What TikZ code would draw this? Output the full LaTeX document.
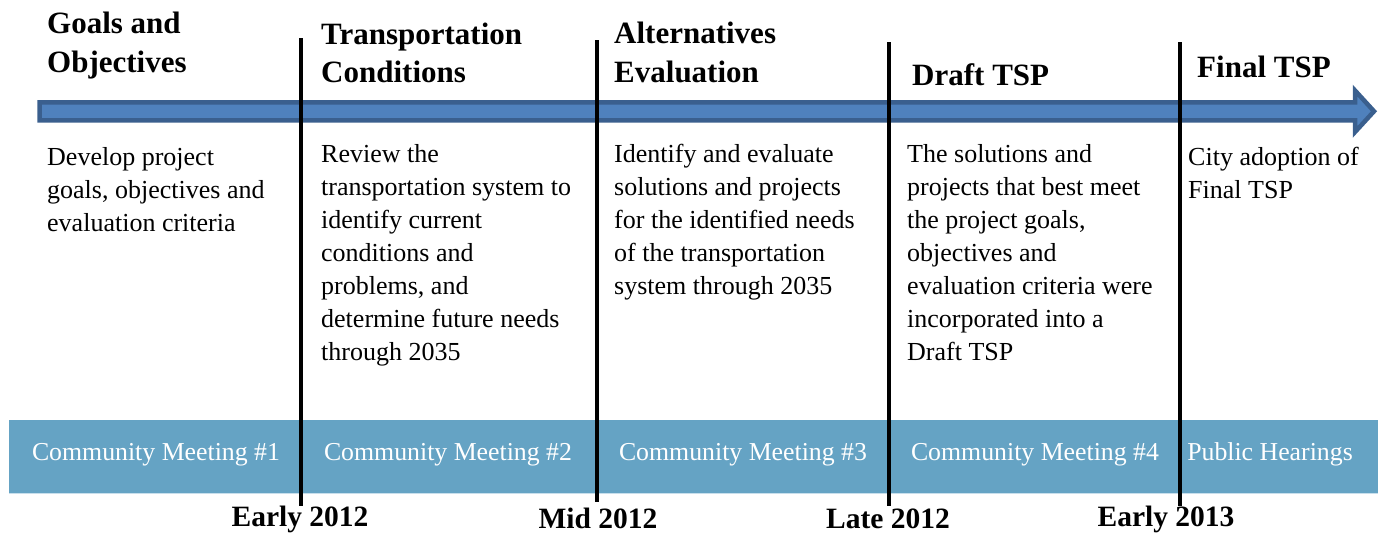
\documentclass[tikz,border=0pt]{standalone}
\usepackage{fontspec}
\setmainfont{Liberation Serif}
\definecolor{arrowfill}{HTML}{4F81BD}
\definecolor{arrowedge}{HTML}{3A5F8E}
\definecolor{bandfill}{HTML}{65A3C4}
\definecolor{bandedge}{HTML}{C8DFEC}
\tikzset{
  phase/.style={anchor=north west, inner sep=0pt, align=left, font=\fontsize{31}{38.4}\selectfont\bfseries},
  desc/.style={anchor=north west, inner sep=0pt, align=left, font=\fontsize{26}{33.1}\selectfont},
  meeting/.style={anchor=base, inner sep=0pt, text=white, font=\fontsize{25.8}{30}\selectfont},
  date/.style={anchor=base, inner sep=0pt, font=\fontsize{29.5}{34}\selectfont\bfseries},
  divider/.style={line width=3.5pt, black},
}
\begin{document}
\begin{tikzpicture}[x=1pt,y=-1pt]
\useasboundingbox (0,0) rectangle (1388,533);
% timeline arrow
\draw[arrowedge, fill=arrowfill, line width=4.5pt, line join=miter, miter limit=3]
  (39.5,102.3) -- (1355,102.3) -- (1355,90.5) -- (1374,111.3) -- (1355,132) -- (1355,120.4) -- (39.5,120.4) -- cycle;
% community band
\fill[bandfill] (9,420) rectangle (1378,493);
\draw[bandedge, line width=1.2pt] (9,493.5) -- (1378,493.5);
% dividers
\draw[divider] (301,38) -- (301,506);
\draw[divider] (597,40) -- (597,502);
\draw[divider] (889,42) -- (889,506);
\draw[divider] (1180,42) -- (1180,506);
% phase titles
\node[phase] (p1) at (47,12.1) {Goals and\\Objectives};
\node[phase] (p2) at (321,22.8) {Transportation\\Conditions};
\node[phase] (p3) at (614,22.1) {Alternatives\\Evaluation};
\node[phase] (p4) at (912,63.8) {Draft TSP};
\node[phase] (p5) at (1197,55.8) {Final TSP};
% descriptions
\node[desc] (d1) at (47,147) {Develop project\\goals, objectives and\\evaluation criteria};
\node[desc] (d2) at (321,144) {Review the\\transportation system to\\identify current\\conditions and\\problems, and\\determine future needs\\through 2035};
\node[desc] (d3) at (614,144) {Identify and evaluate\\solutions and projects\\for the identified needs\\of the transportation\\system through 2035};
\node[desc] (d4) at (907,144) {The solutions and\\projects that best meet\\the project goals,\\objectives and\\evaluation criteria were\\incorporated into a\\Draft TSP};
\node[desc] (d5) at (1188,146.5) {City adoption of\\Final TSP};
% meetings
\node[meeting] (m1) at (156,460) {Community Meeting \#1};
\node[meeting] (m2) at (448,460) {Community Meeting \#2};
\node[meeting] (m3) at (743,460) {Community Meeting \#3};
\node[meeting] (m4) at (1035,460) {Community Meeting \#4};
\node[meeting] (m5) at (1270,460) {Public Hearings};
% dates
\node[date] (t1) at (300,526) {Early 2012};
\node[date] (t2) at (598,528.5) {Mid 2012};
\node[date] (t3) at (888,528.5) {Late 2012};
\node[date] (t4) at (1166,526) {Early 2013};
\end{tikzpicture}
\end{document}
